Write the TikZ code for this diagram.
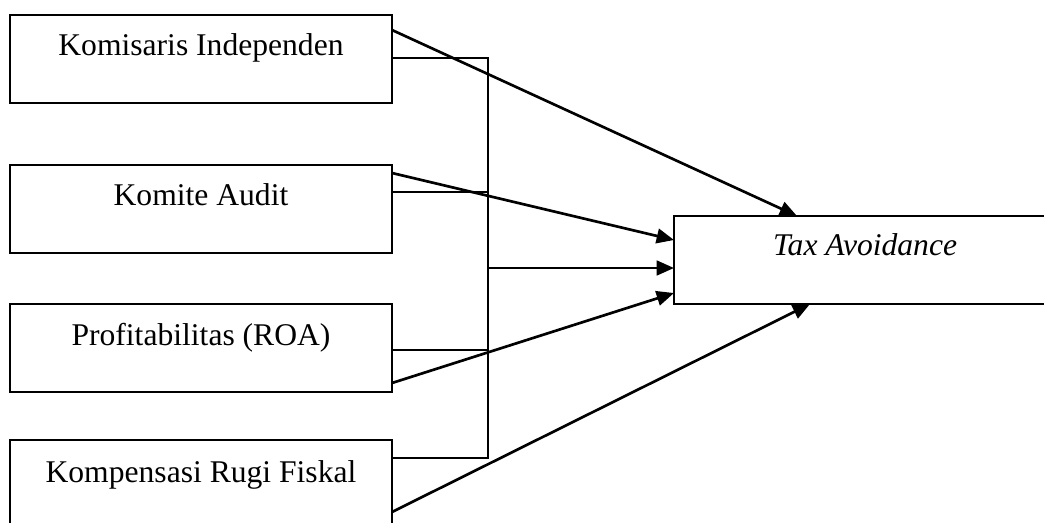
\documentclass[tikz,border=0pt]{standalone}
\usepackage{fontspec}
\setmainfont{Liberation Serif}
\usetikzlibrary{arrows.meta}
\begin{document}
\begin{tikzpicture}[x=0.75pt,y=-0.75pt,
  varbox/.style={draw=black,line width=1.3pt,minimum width=286.5pt,minimum height=66pt,inner sep=0pt},
  lbl/.style={font=\fontsize{23.7}{28}\selectfont,anchor=base,inner sep=0pt},
  busline/.style={line width=1.2pt},
  effect/.style={line width=2pt,-{Triangle[length=13pt,width=11pt]}}]
\useasboundingbox (0,0) rectangle (1044,522);
\clip (0,0) rectangle (1044,522);
\fill[white] (0,0) rectangle (1044,522);
% boxes
\node[varbox] (k1) at (201,59) {};
\node[varbox] (k2) at (201,209) {};
\node[varbox] (k3) at (201,348) {};
\node[varbox] (k4) at (201,484) {};
\node[draw=black,line width=1.3pt,minimum width=282pt,minimum height=66pt,inner sep=0pt] (ta) at (862,260) {};
% labels
\node[lbl] (t1) at (201,55) {Komisaris Independen};
\node[lbl] (t2) at (201,205) {Komite Audit};
\node[lbl] (t3) at (201,345) {Profitabilitas (ROA)};
\node[lbl] (t4) at (201,482) {Kompensasi Rugi Fiskal};
\node[lbl] (t5) at (865,255) {\itshape Tax Avoidance};
% connection points
\coordinate (b1) at (392,58);
\coordinate (b2) at (392,192);
\coordinate (b3) at (392,350);
\coordinate (b4) at (392,458);
\coordinate (bt) at (488,58);
\coordinate (bb) at (488,458);
\coordinate (bm) at (488,268);
\coordinate (d1) at (392,30);
\coordinate (d2) at (392,173);
\coordinate (d3) at (392,383);
\coordinate (d4) at (392,512);
\coordinate (e1) at (797,216);
\coordinate (e2) at (674,240);
\coordinate (e5) at (674,268);
\coordinate (e3) at (674,293);
\coordinate (e4) at (810,304);
% bus
\draw[busline] (b1) -- (bt) -- (bb) -- (b4);
\draw[busline] (b2) -- (b2 -| bt);
\draw[busline] (b3) -- (b3 -| bt);
% arrows
\draw[effect] (d1) -- (e1);
\draw[effect] (d2) -- (e2);
\draw[effect] (bm) -- (e5);
\draw[effect] (d3) -- (e3);
\draw[effect] (d4) -- (e4);
\end{tikzpicture}
\end{document}
